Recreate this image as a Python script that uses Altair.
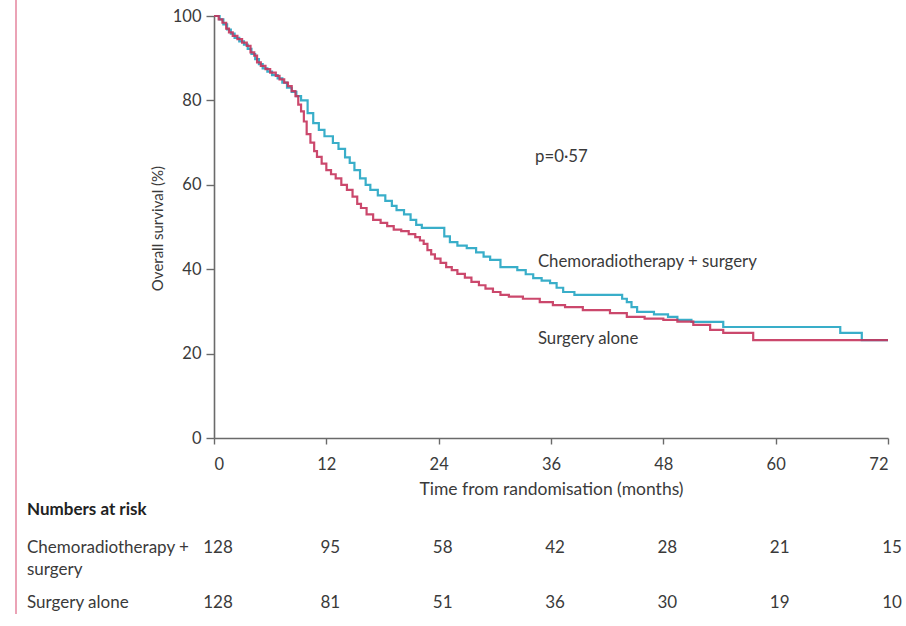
import altair as alt
import pandas as pd

# Kaplan-Meier step points (months, overall survival %)
surgery_months = [0, 0.5, 0.9, 1.3, 1.6, 2.0, 2.5, 3.0, 3.5, 3.9, 4.3, 4.6, 5.0, 5.5, 6.0, 6.6, 7.0, 7.5, 7.9, 8.3,
                  8.7, 9.0, 9.3, 9.6, 9.9, 10.3, 10.7, 11.0, 11.5, 12.0, 12.5, 13.0, 13.6, 14.2, 14.8, 15.3, 15.7,
                  16.3, 17.0, 17.8, 18.5, 19.2, 20.0, 20.8, 21.5, 22.0, 22.4, 22.8, 23.2, 23.6, 24.2, 24.8, 25.4,
                  26.0, 26.8, 27.5, 28.3, 29.0, 29.8, 30.6, 31.5, 33.0, 34.8, 36.2, 37.5, 39.4, 42.3, 44.1, 46.0,
                  48.0, 49.5, 51.2, 53.0, 54.4, 57.6, 72]
surgery_surv = [100, 99.2, 98.4, 97.0, 96.1, 95.3, 94.5, 93.7, 92.9, 91.4, 90.6, 89.0, 88.2, 87.4, 86.6, 85.8, 85.0,
                84.2, 83.4, 82.2, 81.0, 79.0, 77.4, 75.0, 72.0, 70.0, 68.0, 66.6, 65.0, 63.5, 62.5, 61.5, 60.0, 58.8,
                57.2, 55.5, 54.5, 53.0, 51.7, 51.0, 50.2, 49.4, 49.0, 48.3, 47.6, 46.8, 46.0, 44.5, 43.5, 42.5, 41.5,
                40.5, 39.8, 38.9, 38.0, 37.0, 36.2, 35.4, 34.6, 33.9, 33.5, 33.0, 32.2, 31.5, 31.0, 30.3, 29.6, 28.7,
                28.3, 28.0, 27.6, 26.8, 25.6, 24.9, 23.2, 23.2]

chemo_months = [0, 0.6, 1.0, 1.4, 1.8, 2.2, 2.7, 3.2, 3.6, 4.0, 4.4, 4.8, 5.2, 5.7, 6.2, 6.8, 7.3, 7.8, 8.3, 8.8,
                9.3, 10.0, 10.6, 11.2, 11.8, 12.7, 13.3, 14.0, 14.5, 15.0, 15.6, 16.2, 16.7, 17.5, 18.3, 19.0, 19.5,
                20.3, 21.0, 21.6, 22.2, 24.6, 25.2, 26.0, 27.0, 28.0, 28.8, 29.5, 30.6, 32.4, 33.3, 34.1, 35.0, 35.9,
                36.6, 37.3, 38.5, 43.6, 44.1, 44.6, 45.2, 47.0, 48.5, 49.5, 51.0, 54.4, 66.9, 69.2, 72]
chemo_surv = [100, 99.2, 98.0, 96.8, 95.8, 94.8, 94.0, 93.2, 92.2, 91.0, 89.8, 88.6, 87.6, 86.8, 86.0, 85.2, 84.2,
              83.0, 82.0, 81.0, 80.0, 77.0, 74.6, 73.0, 71.5, 69.9, 68.5, 66.5, 65.2, 63.5, 61.5, 60.0, 58.8, 57.5,
              56.2, 55.0, 54.0, 53.0, 51.7, 50.5, 49.8, 47.8, 46.4, 45.6, 45.0, 44.0, 43.0, 42.2, 40.5, 39.8, 38.8,
              37.9, 37.3, 36.7, 35.6, 34.6, 33.9, 33.0, 32.2, 31.0, 29.9, 29.3, 28.7, 28.0, 27.5, 26.3, 24.9, 23.2,
              23.2]

# Numbers at risk
risk_months = [0, 12, 24, 36, 48, 60, 72]
risk_chemo = [128, 95, 58, 42, 28, 21, 15]
risk_surgery = [128, 81, 51, 36, 30, 19, 10]

FONT = "Lato"
TXT = "#3a3a3a"
AX = "#6a6a6a"
RED = "#c5345c"
CYAN = "#39aec9"

x_scale = alt.Scale(domain=[0, 72], nice=False, zero=False)
y_scale = alt.Scale(domain=[0, 100], nice=False)

chemo_df = pd.DataFrame({"month": chemo_months, "surv": chemo_surv})
surgery_df = pd.DataFrame({"month": surgery_months, "surv": surgery_surv})

x_enc = alt.X("month:Q", scale=x_scale, title="Time from randomisation (months)",
              axis=alt.Axis(values=risk_months, grid=False, domainColor=AX, domainWidth=1.6, tickColor=AX,
                            tickWidth=1.4, tickSize=6, labelFont=FONT, labelFontSize=16.5, labelColor=TXT,
                            labelPadding=12, titleFont=FONT, titleFontSize=17.5, titleFontWeight="normal",
                            titleColor=TXT, titlePadding=8))
y_enc = alt.Y("surv:Q", scale=y_scale, title="Overall survival (%)",
              axis=alt.Axis(values=[0, 20, 40, 60, 80, 100], grid=False, domainColor=AX, domainWidth=1.6,
                            tickColor=AX, tickWidth=1.4, tickSize=8, labelFont=FONT, labelFontSize=16.5,
                            labelColor=TXT, labelPadding=5, titleFont=FONT, titleFontSize=15,
                            titleFontWeight="normal", titleColor=TXT, titleX=-57, titleY=212,
                            titleBaseline="middle"))

chemo_line = alt.Chart(chemo_df).mark_line(interpolate="step-after", color=CYAN, strokeWidth=2.2).encode(
    x=x_enc, y=y_enc)
surgery_line = alt.Chart(surgery_df).mark_line(interpolate="step-after", color=RED, strokeWidth=2.2,
                                               opacity=0.9).encode(x="month:Q", y="surv:Q")

notes_df = pd.DataFrame({
    "month": [34.3, 34.6, 34.6],
    "surv": [66.6, 41.7, 23.5],
    "label": ["p=0·57", "Chemoradiotherapy + surgery", "Surgery alone"],
})
notes = alt.Chart(notes_df).mark_text(align="left", baseline="middle", font=FONT, fontSize=16.8,
                                      color=TXT).encode(x="month:Q", y="surv:Q", text="label:N")

# Numbers-at-risk table below the axis
risk_df = pd.DataFrame({
    "month": risk_months + risk_months,
    "n": risk_chemo + risk_surgery,
    "row": ["chemo"] * 7 + ["surgery"] * 7,
})
risk_chemo_txt = alt.Chart(risk_df).transform_filter(alt.datum.row == "chemo").mark_text(
    align="center", baseline="middle", font=FONT, fontSize=17, color=TXT, dx=4).encode(
    x="month:Q", y=alt.value(532), text="n:Q")
risk_surg_txt = alt.Chart(risk_df).transform_filter(alt.datum.row == "surgery").mark_text(
    align="center", baseline="middle", font=FONT, fontSize=17, color=TXT, dx=4).encode(
    x="month:Q", y=alt.value(587), text="n:Q")

row_plain = alt.layer(*[
    alt.Chart(pd.DataFrame({"label": [lab]})).mark_text(
        align="left", baseline="middle", font=FONT, fontSize=17, color=TXT).encode(
        x=alt.value(-187), y=alt.value(yp), text="label:N")
    for lab, yp in zip(["Chemoradiotherapy +", "surgery", "Surgery alone"], [532, 554, 587])
])
row_bold = alt.Chart(pd.DataFrame({"label": ["Numbers at risk"]})).mark_text(
    align="left", baseline="middle", font=FONT, fontSize=17, fontWeight="bold", color="#222").encode(
    x=alt.value(-187), y=alt.value(494), text="label:N")

# page-edge accent rule
edge = alt.Chart(pd.DataFrame({"a": [0]})).mark_rule(color="#eba3b6", strokeWidth=2).encode(
    x=alt.value(-198), y=alt.value(-16), y2=alt.value(598))

chart = alt.layer(chemo_line, surgery_line, notes, risk_chemo_txt, risk_surg_txt, row_bold, row_plain,
                  edge).properties(
    width=674, height=422,
    padding={"left": 214, "top": 16, "right": 18, "bottom": 188},
    autosize=alt.AutoSizeParams(type="none"),
    background="white",
).configure_view(stroke=None)

chart.save("out.html", embed_options={"renderer": "svg", "actions": False})
